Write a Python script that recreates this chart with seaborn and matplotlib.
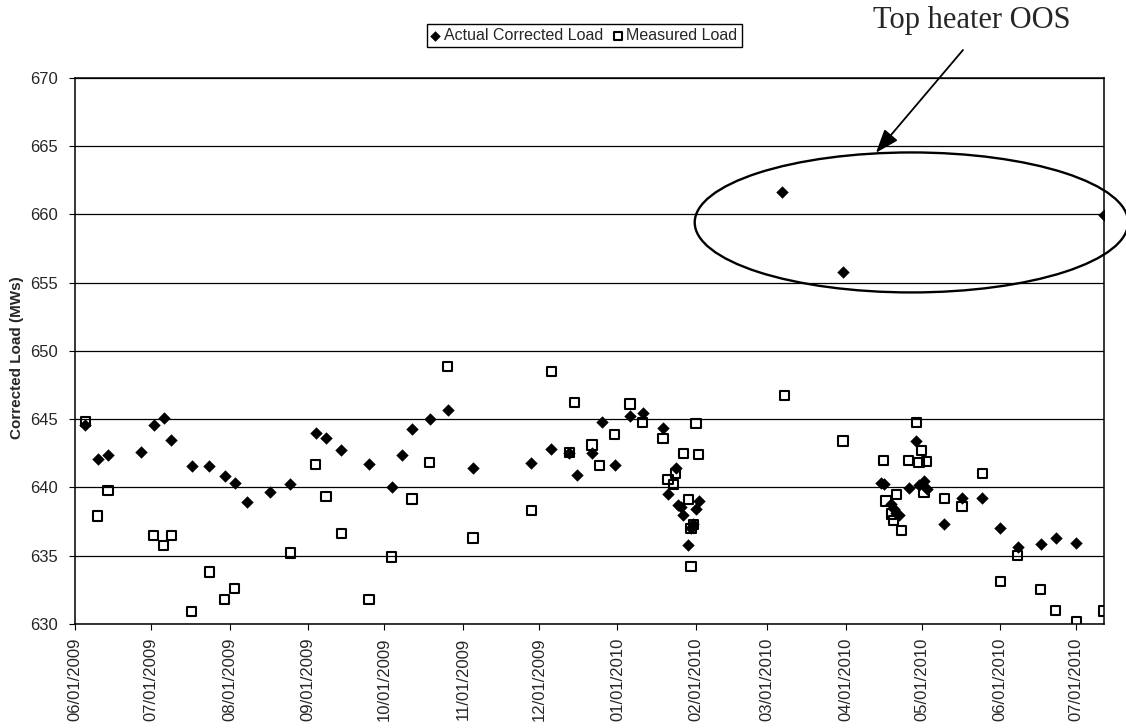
import matplotlib
matplotlib.use("Agg")
import matplotlib.pyplot as plt
import matplotlib.dates as mdates
from matplotlib.patches import Ellipse
import pandas as pd
import seaborn as sns

# ---- data -------------------------------------------------------------
actual_dates = [
    "2009-06-05", "2009-06-10", "2009-06-14", "2009-06-27", "2009-07-02",
    "2009-07-06", "2009-07-09", "2009-07-17", "2009-07-24", "2009-07-30",
    "2009-08-03", "2009-08-08", "2009-08-17", "2009-08-25", "2009-09-04",
    "2009-09-08", "2009-09-14", "2009-09-25", "2009-10-04", "2009-10-08",
    "2009-10-12", "2009-10-19", "2009-10-26", "2009-11-05", "2009-11-28",
    "2009-12-06", "2009-12-13", "2009-12-16", "2009-12-22", "2009-12-26",
    "2009-12-31", "2010-01-06", "2010-01-11", "2010-01-19", "2010-01-21",
    "2010-01-24", "2010-01-25", "2010-01-26", "2010-01-27", "2010-01-29",
    "2010-01-30", "2010-01-31", "2010-02-01", "2010-02-02", "2010-03-07",
    "2010-03-31", "2010-04-15", "2010-04-16", "2010-04-19", "2010-04-20",
    "2010-04-21", "2010-04-22", "2010-04-26", "2010-04-29", "2010-04-30",
    "2010-05-02", "2010-05-03", "2010-05-10", "2010-05-17", "2010-05-25",
    "2010-06-01", "2010-06-08", "2010-06-17", "2010-06-23", "2010-07-01",
    "2010-07-12",
]
actual_load = [
    644.6, 642.1, 642.4, 642.6, 644.6,
    645.1, 643.5, 641.6, 641.6, 640.8,
    640.35, 638.9, 639.65, 640.25, 643.95,
    643.6, 642.75, 641.7, 640.0, 642.4,
    644.3, 645.0, 645.7, 641.4, 641.75,
    642.8, 642.55, 640.9, 642.5, 644.8,
    641.65, 645.2, 645.45, 644.35, 639.5,
    641.4, 638.7, 638.6, 638.0, 635.8,
    637.0, 637.3, 638.4, 639.0, 661.6,
    655.8, 640.3, 640.25, 638.75, 638.4,
    638.1, 638.0, 639.95, 643.4, 640.15,
    640.45, 639.85, 637.3, 639.2, 639.2,
    637.0, 635.65, 635.85, 636.3, 635.9,
    659.95,
]

measured_dates = [
    "2009-06-05", "2009-06-10", "2009-06-14", "2009-07-02", "2009-07-06",
    "2009-07-09", "2009-07-17", "2009-07-24", "2009-07-30", "2009-08-03",
    "2009-08-25", "2009-09-04", "2009-09-08", "2009-09-14", "2009-09-25",
    "2009-10-04", "2009-10-12", "2009-10-19", "2009-10-26", "2009-11-05",
    "2009-11-28", "2009-12-06", "2009-12-13", "2009-12-15", "2009-12-22",
    "2009-12-25", "2009-12-31", "2010-01-06", "2010-01-11", "2010-01-19",
    "2010-01-21", "2010-01-23", "2010-01-24", "2010-01-27", "2010-01-29",
    "2010-01-30", "2010-01-30", "2010-01-31", "2010-02-01", "2010-02-02",
    "2010-03-08", "2010-03-31", "2010-04-16", "2010-04-17", "2010-04-19",
    "2010-04-20", "2010-04-21", "2010-04-23", "2010-04-26", "2010-04-29",
    "2010-04-30", "2010-05-01", "2010-05-02", "2010-05-03", "2010-05-10",
    "2010-05-17", "2010-05-25", "2010-06-01", "2010-06-08", "2010-06-17",
    "2010-06-23", "2010-07-01", "2010-07-12",
]
measured_load = [
    644.85, 637.9, 639.8, 636.5, 635.75,
    636.5, 630.9, 633.8, 631.8, 632.6,
    635.2, 641.7, 639.35, 636.6, 631.8,
    634.9, 639.15, 641.8, 648.85, 636.3,
    638.3, 648.5, 642.55, 646.2, 643.1,
    641.6, 643.85, 646.1, 644.75, 643.6,
    640.6, 640.2, 641.0, 642.5, 639.1,
    637.0, 634.2, 637.3, 644.7, 642.4,
    646.7, 643.4, 641.95, 639.0, 638.05,
    637.6, 639.5, 636.85, 641.95, 644.75,
    641.85, 642.7, 639.6, 641.9, 639.2,
    638.6, 641.0, 633.1, 635.0, 632.55,
    631.0, 630.2, 630.95,
]

y_ticks = [630, 635, 640, 645, 650, 655, 660, 665, 670]
x_range = ["2009-06-01", "2010-07-12"]
series_names = ["Actual Corrected Load", "Measured Load"]
y_title = "Corrected Load (MWs)"
note_text = "Top heater OOS"

# ---- styling ----------------------------------------------------------
sns.set_style("ticks")
plt.rcParams["font.family"] = ["Liberation Sans", "DejaVu Sans"]
plt.rcParams["axes.edgecolor"] = "black"
plt.rcParams["axes.linewidth"] = 1.0

fig = plt.figure(figsize=(11.26, 7.28), dpi=100)
ax = fig.add_axes([0.0666, 0.1429, 0.9139, 0.7504])

actual = pd.DataFrame({"Date": pd.to_datetime(actual_dates), "Load": actual_load})
measured = pd.DataFrame({"Date": pd.to_datetime(measured_dates), "Load": measured_load})

sns.scatterplot(data=actual, x="Date", y="Load", ax=ax, marker="D", s=40,
                color="black", edgecolor="black", linewidth=0,
                label=series_names[0], zorder=3)
sns.scatterplot(data=measured, x="Date", y="Load", ax=ax, marker="s", s=44,
                facecolor="none", edgecolor="black", linewidth=1.5,
                label=series_names[1], zorder=4)

# axes, ticks and grid
ax.set_ylim(y_ticks[0], y_ticks[-1])
ax.set_yticks(y_ticks)
ax.set_xlim(pd.Timestamp(x_range[0]), pd.Timestamp(x_range[1]))
ax.xaxis.set_major_locator(mdates.MonthLocator(bymonthday=1))
ax.xaxis.set_major_formatter(mdates.DateFormatter("%m/%d/%Y"))
ax.tick_params(axis="x", rotation=90, labelsize=12, length=4, width=0.8,
               direction="out", pad=6, color="black")
ax.tick_params(axis="y", labelsize=12, length=4, width=0.8,
               direction="out", pad=8, color="black")
ax.yaxis.grid(True, color="black", linewidth=0.9)
ax.xaxis.grid(False)
ax.set_axisbelow(True)
for sp in ax.spines.values():
    sp.set_visible(True)
    sp.set_color("black")
    sp.set_linewidth(1.1)

ax.set_xlabel("")
ax.set_ylabel(y_title, fontsize=11, fontweight="bold")
ax.yaxis.set_label_coords(-0.0495, 0.487)

# legend above the plot, boxed
handles, labels = ax.get_legend_handles_labels()
if ax.get_legend() is not None:
    ax.get_legend().remove()
fig.legend(handles, labels, loc="center", bbox_to_anchor=(0.5187, 0.951),
           ncol=2, frameon=True, fancybox=False, edgecolor="black",
           framealpha=1, fontsize=11.5, handlelength=0.6, handletextpad=0.25,
           columnspacing=0.6, borderpad=0.25, scatterpoints=1,
           markerscale=0.85)

# callout: ellipse around the out-of-service points, arrow and note
ell = Ellipse((mdates.date2num(pd.Timestamp("2010-04-27")), 659.4),
              width=171, height=10.25, fill=False, edgecolor="black",
              linewidth=1.7, clip_on=False, zorder=5)
ax.add_patch(ell)
ax.annotate("", xy=(mdates.date2num(pd.Timestamp("2010-04-13")), 664.5),
            xycoords="data", xytext=(963 / 1126, 1 - 50 / 728),
            textcoords="figure fraction", annotation_clip=False,
            arrowprops=dict(arrowstyle="-|>,head_length=0.6,head_width=0.22",
                            mutation_scale=24, color="black", lw=1.3,
                            shrinkA=0, shrinkB=0))
fig.text(873 / 1126, 1 - 28 / 728, note_text, fontsize=22,
         family=["Liberation Serif", "DejaVu Serif"], ha="left", va="baseline")

fig.savefig("out.png", dpi=100)
